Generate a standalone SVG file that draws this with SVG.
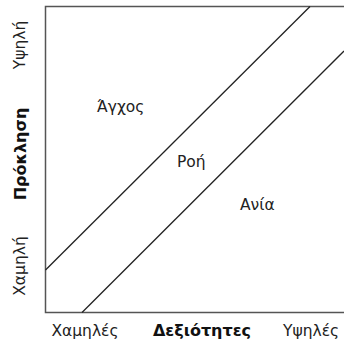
<svg xmlns="http://www.w3.org/2000/svg" width="344" height="344" viewBox="0 0 344 344">
<style>
.t{font-family:"DejaVu Sans","Liberation Sans",sans-serif;font-size:15.5px;fill:#222}
.b{font-weight:bold;font-size:16px;fill:#111}
.ln{stroke:#222;stroke-width:1.3;fill:none}
.ax{stroke:#555;stroke-width:1.5;fill:none}
</style>
<rect width="344" height="344" fill="#fff"/>
<g id="axes">
<path class="ax" d="M344,6.5 H45.5 V312.5 H344"/>
</g>
<g id="connectors">
<line class="ln" x1="45.5" y1="270" x2="310" y2="6.5"/>
<line class="ln" x1="82" y1="312.5" x2="344" y2="51"/>
</g>
<g id="y-labels">
<text class="t" transform="translate(25,45) rotate(-90)" text-anchor="middle">Υψηλή</text>
<text class="t b" transform="translate(26,154) rotate(-90)" text-anchor="middle">Πρόκληση</text>
<text class="t" transform="translate(25,266) rotate(-90)" text-anchor="middle">Χαμηλή</text>
</g>
<g id="x-labels">
<text class="t" x="85" y="336" text-anchor="middle">Χαμηλές</text>
<text class="t b" x="202" y="336" text-anchor="middle">Δεξιότητες</text>
<text class="t" x="283" y="336">Υψηλές</text>
</g>
<g id="node-anxiety"><text class="t" x="97" y="112">Άγχος</text></g>
<g id="node-flow"><text class="t" x="177" y="167">Ροή</text></g>
<g id="node-boredom"><text class="t" x="240" y="210">Ανία</text></g>
</svg>
